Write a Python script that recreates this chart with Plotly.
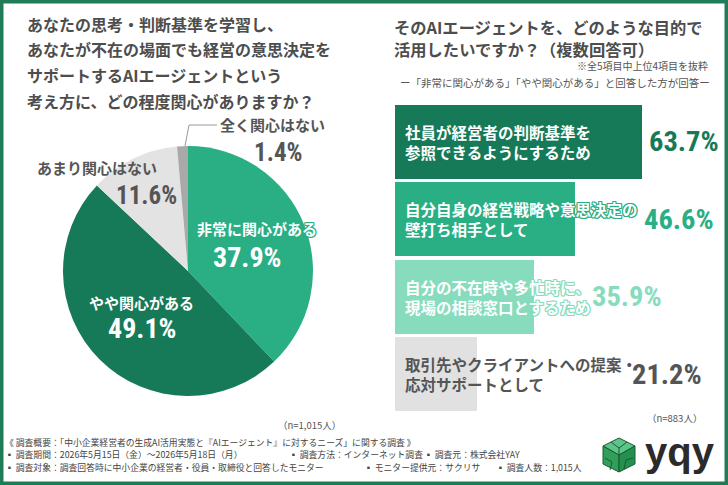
import plotly.graph_objects as go

# ---------------- data ----------------
pie_labels = ["非常に関心がある", "やや関心がある", "あまり関心はない", "全く関心はない"]
pie_values = [37.9, 49.1, 11.6, 1.4]
pie_n = "（n=1,015人）"

bar_labels = [
    "社員が経営者の判断基準を<br>参照できるようにするため",
    "自分自身の経営戦略や意思決定の<br>壁打ち相手として",
    "自分の不在時や多忙時に、<br>現場の相談窓口とするため",
    "取引先やクライアントへの提案・<br>応対サポートとして",
]
bar_values = [63.7, 46.6, 35.9, 21.2]
bar_n = "（n=883人）"

left_title = [
    "あなたの思考・判断基準を学習し、",
    "あなたが不在の場面でも経営の意思決定を",
    "サポートするAIエージェントという",
    "考え方に、どの程度関心がありますか？",
]
right_title = ["そのAIエージェントを、どのような目的で", "活用したいですか？（複数回答可）"]
note1 = "※全5項目中上位4項目を抜粋"
note2 = "ー「非常に関心がある」「やや関心がある」と回答した方が回答ー"
footer = [
    [(3, "《 調査概要：「中小企業経営者の生成AI活用実態と『AIエージェント』に対するニーズ」に関する調査 》")],
    [(3, "▪ 調査期間：2026年5月15日（金）～2026年5月18日（月）"), (287, "▪ 調査方法：インターネット調査"), (422, "▪ 調査元：株式会社YAY")],
    [(3, "▪ 調査対象：調査回答時に中小企業の経営者・役員・取締役と回答したモニター"), (362, "▪ モニター提供元：サクリサ"), (494, "▪ 調査人数：1,015人")],
]

# ---------------- styles / layout ----------------
W, H = 728, 485
JP = "Noto Sans CJK JP"
NUM = "'Roboto Condensed', 'Open Sans Condensed', sans-serif"
DARK = "#167a58"
MID = "#2aae84"
LIGHT = "#88dcbe"
GREY_BAR = "#e1e1e1"
TXT = "#4d4d4d"

pie_colors = [MID, DARK, "#e3e3e3", "#a9a9a9"]
pie_label_pos = [(257, 228), (141, 302), (97, 167), (272, 125)]
pie_value_pos = [(247, 257), (142, 328), (146, 195), (278, 152)]
pie_text_col = ["white", "white", "#555555", "#555555"]
pie_outline = [MID, DARK, None, None]
pie_value_size = [28, 28, 25, 25]

bar_colors = [DARK, MID, LIGHT, GREY_BAR]
bar_text_col = ["white", "white", "white", "#555555"]
bar_outline = [DARK, MID, LIGHT, None]
value_colors = [DARK, MID, LIGHT, "#555555"]
value_text_x = [65.1, 63.8, 50.4, 60.8]  # left edge of the value text, in axis units

PX_PER_PCT = 3.87


def px(x):
    return x / W


def py(y):
    return 1 - y / H


def outline(c):
    if c is None:
        return "none"
    offs = [(-1, -1), (1, -1), (-1, 1), (1, 1), (0, 1), (0, -1), (1, 0), (-1, 0)]
    return ", ".join(f"{a}px {b}px 0 {c}" for a, b in offs)


fig = go.Figure()

fig.add_trace(go.Pie(
    labels=pie_labels, values=pie_values, sort=False, direction="clockwise", rotation=0,
    marker=dict(colors=pie_colors, line=dict(width=0)),
    textinfo="none", hoverinfo="label+percent", showlegend=False,
    domain=dict(x=[px(63), px(313)], y=[py(396), py(146)]),
))

fig.add_trace(go.Bar(
    x=bar_values, y=list(range(len(bar_values))), orientation="h",
    marker=dict(color=bar_colors, line=dict(width=0)), width=0.955,
    showlegend=False, hoverinfo="x",
    xaxis="x", yaxis="y",
))

ann = []
shapes = []

# border frame
shapes.append(dict(type="rect", xref="paper", yref="paper", x0=0, x1=1, y0=0, y1=1,
                   line=dict(color="#1e7d57", width=7), fillcolor="rgba(0,0,0,0)", layer="above"))

# titles
for i, t in enumerate(left_title):
    ann.append(dict(x=px(25), y=py([24, 49, 75, 101][i]), xref="paper", yref="paper", text=t,
                    xanchor="left", yanchor="middle", showarrow=False,
                    font=dict(family=JP, size=16, color=TXT, weight="bold")))
for i, t in enumerate(right_title):
    ann.append(dict(x=px(393), y=py([27, 49][i]), xref="paper", yref="paper", text=t,
                    xanchor="left", yanchor="middle", showarrow=False, borderpad=0,
                    font=dict(family=JP, size=16.3, color=TXT, weight="bold")))
ann.append(dict(x=px(709), y=py(66), xref="paper", yref="paper", text=note1, xanchor="right",
                yanchor="middle", showarrow=False, borderpad=0,
                font=dict(family=JP, size=10, color="#555555")))
ann.append(dict(x=px(555), y=py(82), xref="paper", yref="paper", text=note2, xanchor="center",
                yanchor="middle", showarrow=False, borderpad=0,
                font=dict(family=JP, size=10.5, color="#555555")))

# pie labels
for i, lab in enumerate(pie_labels):
    lx, ly = pie_label_pos[i]
    vx, vy = pie_value_pos[i]
    ann.append(dict(x=px(lx), y=py(ly), xref="paper", yref="paper", text=lab, showarrow=False,
                    xanchor="center", yanchor="middle",
                    font=dict(family=JP, size=15, color=pie_text_col[i], weight="bold",
                              shadow=outline(pie_outline[i]))))
    ann.append(dict(x=px(vx), y=py(vy), xref="paper", yref="paper", text=f"{pie_values[i]}%",
                    showarrow=False, xanchor="center", yanchor="middle",
                    font=dict(family=NUM, size=pie_value_size[i], color=pie_text_col[i], weight="bold")))

# leader line for the smallest slice
shapes.append(dict(type="path", xref="paper", yref="paper",
                   path=f"M {px(185)},{py(146)} L {px(189)},{py(125)} L {px(217)},{py(125)}",
                   line=dict(color="#9a9a9a", width=1)))

# bar labels and values
for i, lab in enumerate(bar_labels):
    ann.append(dict(x=0, y=i, xref="x", yref="y", text=lab, xanchor="left", yanchor="middle",
                    xshift=8, align="left", showarrow=False,
                    font=dict(family=JP, size=15.5, color=bar_text_col[i], weight="bold",
                              shadow=outline(bar_outline[i]))))
    ann.append(dict(x=value_text_x[i], y=i, xref="x", yref="y", text=f"{bar_values[i]}%",
                    xanchor="left", yanchor="middle", showarrow=False,
                    font=dict(family=NUM, size=28.5, color=value_colors[i], weight="bold")))

# sample sizes
ann.append(dict(x=px(309), y=py(425), xref="paper", yref="paper", text=pie_n, showarrow=False,
                xanchor="center", yanchor="middle", font=dict(family=JP, size=9.5, color="#555555")))
ann.append(dict(x=px(674), y=py(418), xref="paper", yref="paper", text=bar_n, showarrow=False,
                xanchor="center", yanchor="middle", font=dict(family=JP, size=9.5, color="#555555")))

# footer
for li, row in enumerate(footer):
    for x0, t in row:
        ann.append(dict(x=px(x0), y=py([442, 454, 467][li]), xref="paper", yref="paper", text=t,
                        showarrow=False, xanchor="left", yanchor="middle",
                        font=dict(family=JP, size=8.8, color="#444444")))

# logo: cube icon + wordmark
cx, top, bot, l, r = 619, 438, 472, 603, 635
ul, ll = 446, 464
cy = 455


def path(pts):
    return "M " + " L ".join(f"{px(a)},{py(b)}" for a, b in pts) + " Z"


shapes.append(dict(type="path", xref="paper", yref="paper",
                   path=path([(cx, top), (r, ul), (cx, cy), (l, ul)]),
                   fillcolor="#5cc488", line=dict(color="#1c5a36", width=1)))
shapes.append(dict(type="path", xref="paper", yref="paper",
                   path=path([(l, ul), (cx, cy), (cx, bot), (l, ll)]),
                   fillcolor="#2f9f5a", line=dict(color="#1c5a36", width=1)))
shapes.append(dict(type="path", xref="paper", yref="paper",
                   path=path([(cx, cy), (r, ul), (r, ll), (cx, bot)]),
                   fillcolor="#23904c", line=dict(color="#1c5a36", width=1)))
for seg in [[(611, 442), (619, 448), (627, 442)], [(619, 448), (619, 455)],
            [(605, 458), (612, 462), (610, 470)], [(626, 460), (633, 458)], [(626, 460), (624, 469)]]:
    shapes.append(dict(type="path", xref="paper", yref="paper",
                       path="M " + " L ".join(f"{px(a)},{py(b)}" for a, b in seg),
                       line=dict(color="#1c5a36", width=1)))
ann.append(dict(x=px(680), y=py(452), xref="paper", yref="paper", text="yqy", showarrow=False,
                xanchor="center", yanchor="middle",
                font=dict(family="Liberation Sans, Arial, sans-serif", size=40, color="#2b2b2b", weight="bold")))

fig.update_layout(
    width=W, height=H, margin=dict(l=0, r=0, t=0, b=0),
    paper_bgcolor="white", plot_bgcolor="rgba(0,0,0,0)",
    xaxis=dict(domain=[px(395), px(724)], range=[0, (724 - 395) / PX_PER_PCT], visible=False, fixedrange=True),
    yaxis=dict(domain=[py(413), py(103)], range=[3.5, -0.5], visible=False, fixedrange=True),
    annotations=ann, shapes=shapes, bargap=0,
)

fig.write_html("out.html", config={"displayModeBar": False},
               post_script="document.body.style.margin='0px';")
